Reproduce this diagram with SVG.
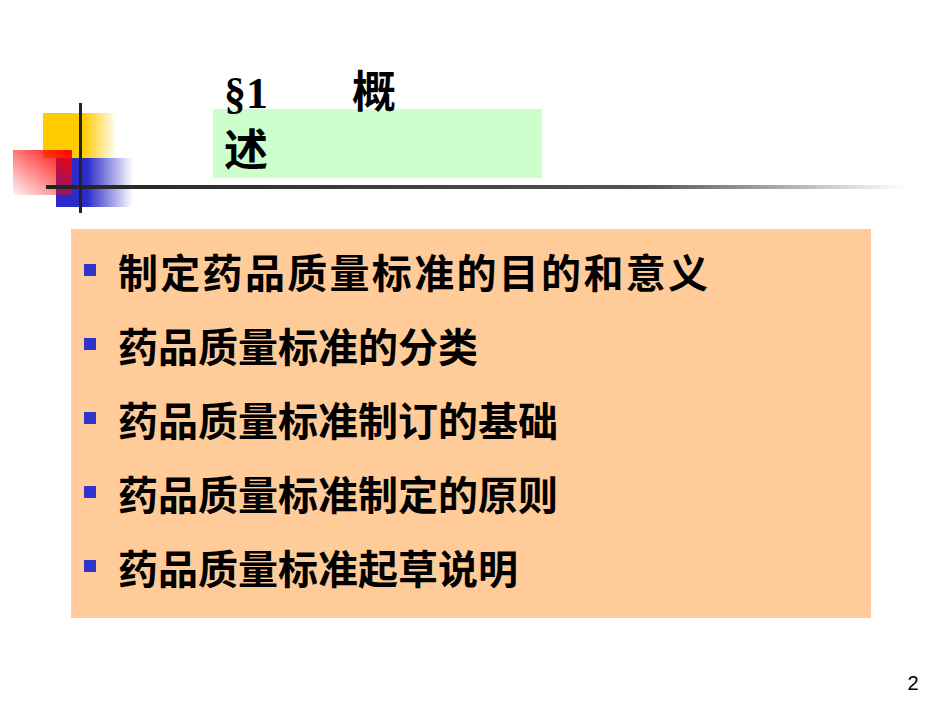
<svg xmlns="http://www.w3.org/2000/svg" width="950" height="713" viewBox="0 0 950 713">
<defs>
<linearGradient id="gy" x1="0" x2="1"><stop offset="0" stop-color="#FFCC00"/><stop offset="0.55" stop-color="#FFCC00"/><stop offset="1" stop-color="#FFCC00" stop-opacity="0"/></linearGradient>
<linearGradient id="gb" x1="0" x2="1"><stop offset="0" stop-color="#2B2BC8"/><stop offset="0.4" stop-color="#2B2BC8"/><stop offset="1" stop-color="#2B2BC8" stop-opacity="0"/></linearGradient>
<linearGradient id="gr" x1="1" y1="0" x2="0" y2="1"><stop offset="0" stop-color="#FF0000"/><stop offset="1" stop-color="#FF0000" stop-opacity="0.05"/></linearGradient>
<linearGradient id="gl" x1="0" x2="1"><stop offset="0" stop-color="#222"/><stop offset="0.7" stop-color="#555"/><stop offset="1" stop-color="#fff"/></linearGradient>
<style>
.t{font-family:"Noto Sans CJK SC",sans-serif;font-weight:bold;font-size:40px;fill:#000}
.h{font-family:"Liberation Serif","Noto Sans CJK SC",serif;font-weight:bold;font-size:44px;fill:#000}
.b{fill:#3333CC}
</style>
</defs>
<g id="deco">
<rect x="43" y="113" width="74" height="45" fill="url(#gy)"/>
<rect x="56" y="158" width="77" height="49" fill="url(#gb)"/>
<rect x="13" y="150" width="59" height="45" fill="url(#gr)"/>
<rect x="46" y="185" width="860" height="4" fill="url(#gl)"/>
<rect x="79" y="103" width="3" height="110" fill="#222"/>
</g>
<g id="title">
<rect x="213" y="109" width="329" height="69" fill="#CCFFCC"/>
<text class="h" x="224" y="108">§1</text>
<text class="h" x="352" y="108">概</text>
<text class="h" x="224" y="166">述</text>
</g>
<g id="content">
<rect x="71" y="229" width="800" height="389" fill="#FFCC99"/>
<rect class="b" x="84" y="264" width="12" height="12"/>
<rect class="b" x="84" y="338" width="12" height="12"/>
<rect class="b" x="84" y="412" width="12" height="12"/>
<rect class="b" x="84" y="486" width="12" height="12"/>
<rect class="b" x="84" y="560" width="12" height="12"/>
<text class="t" x="118" y="288" textLength="590">制定药品质量标准的目的和意义</text>
<text class="t" x="118" y="362">药品质量标准的分类</text>
<text class="t" x="118" y="436">药品质量标准制订的基础</text>
<text class="t" x="118" y="510">药品质量标准制定的原则</text>
<text class="t" x="118" y="584">药品质量标准起草说明</text>
</g>
<text x="913" y="690" font-family="Liberation Sans,sans-serif" font-size="20" fill="#000" text-anchor="middle">2</text>
</svg>
